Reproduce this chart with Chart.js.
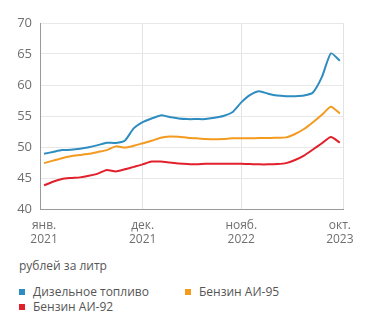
<!DOCTYPE html>
<html>
<head>
<meta charset="utf-8">
<script src="https://cdn.jsdelivr.net/npm/chart.js@4"></script>
<style>
  body { margin: 0; background: #fff; font-family: "Open Sans", sans-serif; color: #555; }
  #wrap { position: relative; width: 371px; height: 255px; }
  .unit { position: absolute; left: 19px; top: 257px; font-size: 12px; color: #555; }
  .legend { position: absolute; left: 19px; top: 284px; width: 352px; font-size: 12px; color: #555; }
  .item { position: absolute; white-space: nowrap; line-height: 16px; }
  .item i { display: inline-block; width: 6px; height: 6px; margin-right: 8px; vertical-align: 1px; }
</style>
</head>
<body>
<div id="wrap"><canvas id="chart"></canvas></div>
<div class="unit">рублей за литр</div>
<div class="legend">
  <div class="item" style="left:0;top:0"><i style="background:#2e8cc0"></i>Дизельное топливо</div>
  <div class="item" style="left:166px;top:0"><i style="background:#f39a1f"></i>Бензин АИ-95</div>
  <div class="item" style="left:0;top:15px"><i style="background:#e2202b"></i>Бензин АИ-92</div>
</div>
<script>
// monthly, Jan 2021 .. Oct 2023
const tickLabels = {0: ["янв.", "2021"], 11: ["дек.", "2021"], 22: ["нояб.", "2022"], 33: ["окт.", "2023"]};

const diesel = [48.9, 49.2, 49.5, 49.55, 49.7, 49.95, 50.3, 50.7, 50.65, 51.0, 53.0, 54.0,
                54.6, 55.1, 54.85, 54.6, 54.5, 54.5, 54.5, 54.7, 55.0, 55.6, 57.2, 58.4,
                59.0, 58.6, 58.3, 58.2, 58.2, 58.3, 58.8, 61.3, 65.1, 63.9];
const ai95   = [47.4, 47.8, 48.2, 48.5, 48.7, 48.9, 49.2, 49.5, 50.1, 49.9, 50.2, 50.6,
                51.0, 51.5, 51.7, 51.65, 51.5, 51.4, 51.3, 51.25, 51.3, 51.4, 51.4, 51.4,
                51.45, 51.45, 51.5, 51.55, 52.1, 52.9, 54.0, 55.2, 56.5, 55.4];
const ai92   = [43.8, 44.4, 44.85, 45.0, 45.1, 45.35, 45.7, 46.3, 46.05, 46.4, 46.8, 47.2,
                47.65, 47.65, 47.5, 47.35, 47.25, 47.2, 47.3, 47.3, 47.3, 47.3, 47.3, 47.25,
                47.2, 47.2, 47.25, 47.4, 47.9, 48.6, 49.6, 50.6, 51.6, 50.7];

const toXY = arr => arr.map((v, i) => ({x: i, y: v}));

const X_MIN = -0.45, X_MAX = 33.35;

const ds = (data, color) => ({
    data: toXY(data),
    borderColor: color,
    borderWidth: 2,
    pointRadius: 0,
    tension: 0.2,
    fill: false,
});

new Chart(document.getElementById("chart").getContext("2d"), {
    type: "line",
    data: {
        datasets: [
            ds(diesel, "#2e8cc0"),
            ds(ai95,   "#f39a1f"),
            ds(ai92,   "#e2202b"),
        ]
    },
    options: {
        responsive: true,
        maintainAspectRatio: false,
        animation: false,
        layout: { padding: { top: 23, right: 28, left: 0, bottom: 0 } },
        plugins: { legend: { display: false }, tooltip: { enabled: false } },
        scales: {
            x: {
                type: "linear",
                min: X_MIN,
                max: X_MAX,
                afterBuildTicks: s => { s.ticks = [X_MIN, 0, 11, 22, 33, X_MAX].map(v => ({value: v})); },
                afterFit: s => { s.height = 46; },
                grid: {
                    drawTicks: false,
                    color: c => (c.tick && (c.tick.value === 11 || c.tick.value === 22 || c.tick.value === X_MAX)) ? "#e3e3e3" : "rgba(0,0,0,0)",
                },
                border: { color: "#9a9a9a", width: 1 },
                ticks: {
                    autoSkip: false,
                    maxRotation: 0,
                    padding: 10,
                    color: "#6f6f6f",
                    font: { family: "Open Sans", size: 12, lineHeight: 1.15 },
                    callback: v => tickLabels[v] || "",
                },
            },
            y: {
                min: 40,
                max: 70,
                afterFit: s => { s.width = 40; },
                grid: { drawTicks: false, color: "#e8e8e8" },
                border: { color: "#9a9a9a", width: 1 },
                ticks: {
                    stepSize: 5,
                    padding: 8,
                    color: "#6f6f6f",
                    font: { family: "Open Sans", size: 13 },
                },
            },
        },
    },
});
</script>
</body>
</html>
